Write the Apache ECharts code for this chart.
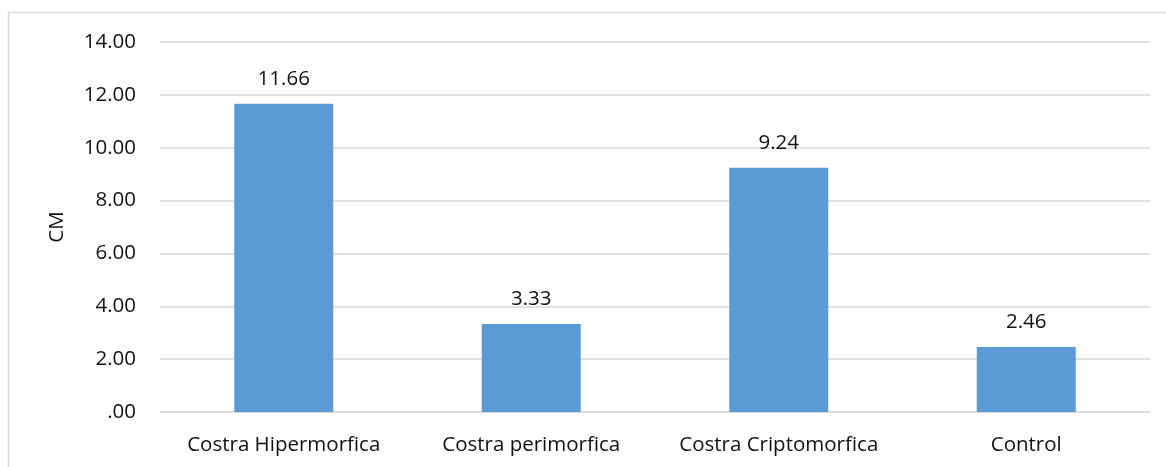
<!DOCTYPE html>
<html><head><meta charset="utf-8">
<script src="https://cdn.jsdelivr.net/npm/echarts@6/dist/echarts.min.js"></script>
<style>html,body{margin:0;padding:0;background:#fff}#c{width:1166px;height:467px}</style>
</head><body><div id="c"></div>
<script>
const categories = ['Costra Hipermorfica', 'Costra perimorfica', 'Costra Criptomorfica', 'Control'];
const values = [11.66, 3.33, 9.24, 2.46];
const yTicks = { min: 0, max: 14, interval: 2 };
const yName = 'CM';

const chart = echarts.init(document.getElementById('c'));
const font = '"Open Sans", "Noto Sans", sans-serif';
chart.setOption({
  animation: false,
  graphic: [{ type: 'rect', shape: { x: 8.5, y: 12.5, width: 1170, height: 470 }, style: { fill: 'none', stroke: '#d9d9d9', lineWidth: 1.5 }, silent: true }],
  grid: { left: 160, right: 16, top: 42, bottom: 55 },
  xAxis: {
    type: 'category', data: categories,
    axisLine: { lineStyle: { color: '#d9d9d9', width: 1.5 } },
    axisTick: { show: false },
    axisLabel: { color: '#111', fontSize: 20.5, fontFamily: font, margin: 23, interval: 0, hideOverlap: false }
  },
  yAxis: {
    type: 'value', min: yTicks.min, max: yTicks.max, interval: yTicks.interval,
    name: yName, nameLocation: 'middle', nameGap: 92, nameRotate: 90,
    nameTextStyle: { color: '#111', fontSize: 20.5, fontFamily: font },
    axisLine: { show: false }, axisTick: { show: false },
    splitLine: { lineStyle: { color: '#d9d9d9', width: 1.5 } },
    axisLabel: { color: '#111', fontSize: 20.5, fontFamily: font, margin: 24,
      formatter: v => { const s = v.toFixed(2); return s.startsWith('0') ? s.slice(1) : s; } }
  },
  series: [{
    type: 'bar', data: values, barWidth: '40%',
    itemStyle: { color: '#5B9BD5' },
    label: { show: true, position: 'top', distance: 14, color: '#111', fontSize: 20.5, fontFamily: font, formatter: p => p.value.toFixed(2) }
  }]
});
</script></body></html>
